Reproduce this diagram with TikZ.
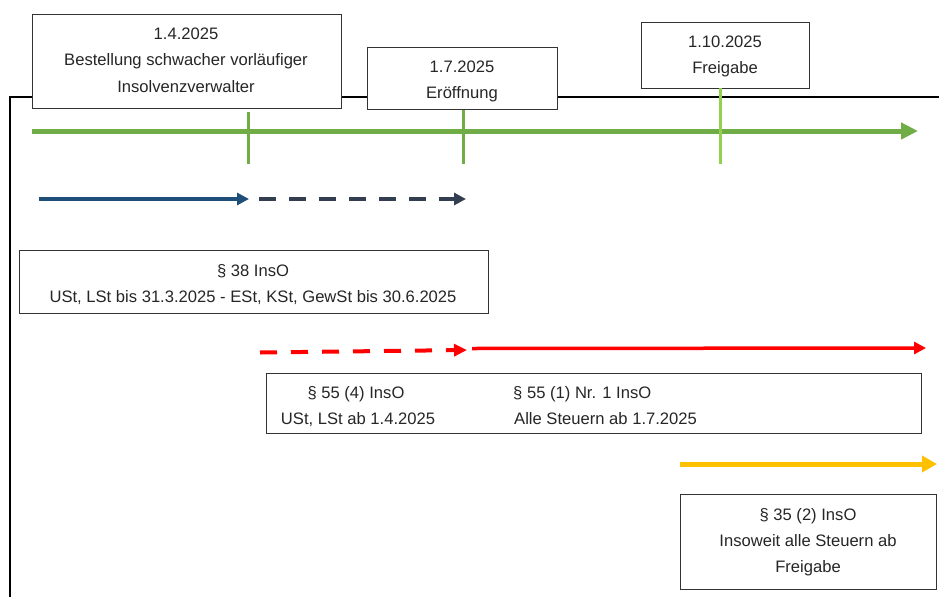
\documentclass[tikz,border=0pt]{standalone}
\usepackage{fontspec}
\setmainfont{Liberation Sans}
\usetikzlibrary{arrows.meta}
\definecolor{tgreen}{HTML}{70AD47}
\definecolor{tlgreen}{HTML}{92D050}
\definecolor{tblue}{HTML}{1F4E79}
\definecolor{tdark}{HTML}{333F50}
\definecolor{tred}{HTML}{FF0000}
\definecolor{tyellow}{HTML}{FFC000}
\definecolor{ttext}{HTML}{262626}
\tikzset{
  tbox/.style={draw=black!80, line width=1.2pt, fill=white, inner sep=0pt, anchor=north west},
  ttxt/.style={font=\fontsize{16.6}{19}\selectfont, text=ttext, inner sep=0pt, text height=12pt, text depth=0pt},
  tick/.style={line width=3pt}
}
\begin{document}
\begin{tikzpicture}[x=1pt,y=-1pt]
\useasboundingbox (0,0) rectangle (939,597);
% frame line
\coordinate (f1) at (10,597);
\coordinate (f2) at (10,97);
\coordinate (f3) at (939,97);
\draw[line width=1.3pt] (f1) -- (f2) -- (f3);
% top boxes
\node[tbox, minimum width=309, minimum height=94] (b1) at (32,14) {};
\node[ttxt] (b1a) at (186,33) {1.4.2025};
\node[ttxt] (b1b) at (186,59) {Bestellung schwacher vorläufiger};
\node[ttxt] (b1c) at (186,86) {Insolvenzverwalter};
\node[tbox, minimum width=190, minimum height=62] (b2) at (367,47) {};
\node[ttxt] (b2a) at (462,66) {1.7.2025};
\node[ttxt] (b2b) at (462,92) {Eröffnung};
\node[tbox, minimum width=168, minimum height=66] (b3) at (641,22) {};
\node[ttxt] (b3a) at (725,41) {1.10.2025};
\node[ttxt] (b3b) at (725,67) {Freigabe};
% green timeline
\coordinate (g0) at (32,131);
\coordinate (g1) at (918,131);
\draw[tgreen, line width=5pt, -{Triangle[length=17pt,width=16pt]}] (g0) -- (g1);
\coordinate (t1a) at (248,112); \coordinate (t1b) at (248,164);
\coordinate (t2a) at (463,110); \coordinate (t2b) at (463,164);
\coordinate (t3a) at (720,88);  \coordinate (t3b) at (720,164);
\draw[tick, tgreen] (t1a) -- (t1b);
\draw[tick, tgreen] (t2a) -- (t2b);
\draw[tick, tlgreen] (t3a) -- (t3b);
% blue arrows
\coordinate (bl0) at (39,199); \coordinate (bl1) at (249,199);
\coordinate (bd0) at (259,199); \coordinate (bd1) at (466,199);
\draw[tblue, line width=3.5pt, -{Triangle[length=12pt,width=12pt]}] (bl0) -- (bl1);
\draw[tdark, line width=3.8pt, dash pattern=on 17pt off 13pt, -{Triangle[length=12pt,width=12pt]}] (bd0) -- (bd1);
% box 38
\node[tbox, minimum width=469, minimum height=63] (b4) at (19,250) {};
\node[ttxt] (b4a) at (253,270) {§ 38 InsO};
\node[ttxt] (b4b) at (253,296) {USt, LSt bis 31.3.2025 - ESt, KSt, GewSt bis 30.6.2025};
% red arrows
\coordinate (rd0) at (260,352.5); \coordinate (rd1) at (467,350);
\coordinate (rl0) at (472,348.5); \coordinate (rl1) at (926,348);
\draw[tred, line width=4pt, dash pattern=on 17pt off 14pt, -{Triangle[length=13pt,width=12pt]}] (rd0) -- (rd1);
\draw[tred, line width=3.5pt, -{Triangle[length=12pt,width=12pt]}] (rl0) -- (rl1);
% box 55
\node[tbox, minimum width=655, minimum height=60] (b5) at (266,373) {};
\node[ttxt] (b5a) at (356,392) {§ 55 (4) InsO};
\node[ttxt] (b5b) at (358,418) {USt, LSt ab 1.4.2025};
\node[ttxt, anchor=west] (b5c) at (513,392) {§ 55 (1) Nr. 1 InsO};
\node[ttxt, anchor=west] (b5d) at (514,418) {Alle Steuern ab 1.7.2025};
% yellow arrow
\coordinate (y0) at (680,464); \coordinate (y1) at (937,464);
\draw[tyellow, line width=5pt, -{Triangle[length=15pt,width=16pt]}] (y0) -- (y1);
% box 35
\node[tbox, minimum width=256, minimum height=95] (b6) at (680,494) {};
\node[ttxt] (b6a) at (808,514) {§ 35 (2) InsO};
\node[ttxt] (b6b) at (808,540) {Insoweit alle Steuern ab};
\node[ttxt] (b6c) at (808,566) {Freigabe};
\end{tikzpicture}
\end{document}
